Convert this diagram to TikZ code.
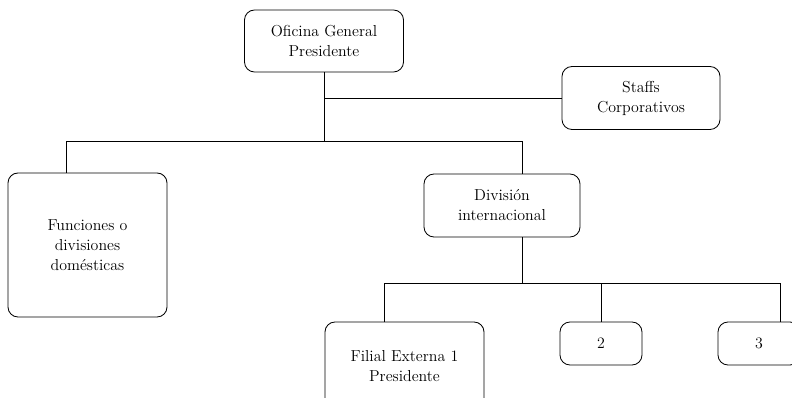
\documentclass[tikz,border=0pt]{standalone}
\usepackage{tikz}

\tikzset{
  caja/.style={draw,rounded corners=0.25cm,line width=0.6pt,align=center,
    font=\fontsize{11.3}{14.2}\selectfont,inner sep=2pt},
  linea/.style={line width=0.6pt}
}

\begin{document}
\begin{tikzpicture}[x=0.025cm,y=-0.025cm]
\useasboundingbox (0,0) rectangle (792,398);
\clip (0,0) rectangle (792,398);
\node[caja,minimum width=3.975cm,minimum height=1.55cm] (ofi) at (324,41) {Oficina General\\Presidente};
\node[caja,minimum width=3.95cm,minimum height=1.575cm] (staffs) at (641,98) {Staffs\\Corporativos};
\node[caja,minimum width=3.975cm,minimum height=3.6cm] (func) at (87.5,245) {Funciones o\\divisiones\\domésticas};
\node[caja,minimum width=3.9cm,minimum height=1.575cm] (div) at (502,205.5) {División\\internacional};
\node[caja,minimum width=3.975cm,minimum height=2.2cm] (fil) at (404.5,366) {Filial Externa 1\\Presidente};
\node[caja,minimum width=2.05cm,minimum height=1.075cm] (n2) at (601,343.5) {2};
\node[caja,minimum width=2.05cm,minimum height=1.075cm] (n3) at (759,343.5) {3};
% puntos de union
\coordinate (j1) at (324,141);
\coordinate (fl) at (66,141);
\coordinate (dl) at (522,141);
\coordinate (dj) at (522,283);
\coordinate (al) at (384,283);
\coordinate (cl) at (780,283);
\draw[linea] (ofi) -- (j1);
\draw[linea] (ofi) |- (staffs);
\draw[linea] (fl |- func.north) -- (fl) -- (dl) -- (dl |- div.north);
\draw[linea] (dl |- div.south) -- (dj);
\draw[linea] (al |- fil.north) -- (al) -- (cl) -- (cl |- n3.north);
\draw[linea] (n2) -- (n2 |- dj);
\end{tikzpicture}
\end{document}
